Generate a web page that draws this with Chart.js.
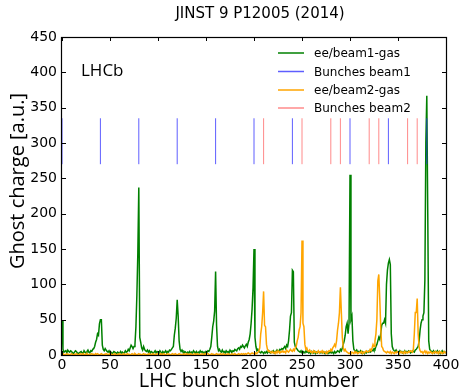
<!DOCTYPE html>
<html><head><meta charset="utf-8">
<script src="https://cdn.jsdelivr.net/npm/chart.js@4/dist/chart.umd.min.js"></script>
<style>html,body{margin:0;padding:0;background:#fff;}</style>
</head><body>
<canvas id="c" width="463" height="392"></canvas>
<script>
// ---- data ----
const slots = Array.from({length: 401}, (_, i) => i); // LHC bunch slot numbers 0..400

const beam1GasCharge = [
  48, 8, 4, 5, 6, 3, 7, 5, 4, 6,
  5, 3, 2, 4, 6, 5, 3, 2, 3, 4,
  5, 3, 2, 6, 4, 3, 5, 7, 4, 3,
  6, 5, 8, 9, 12, 18, 22, 30, 28, 44,
  50, 50, 14, 8, 6, 9, 7, 5, 4, 6,
  3, 4, 2, 3, 5, 4, 3, 2, 4, 3,
  2, 5, 3, 4, 2, 3, 6, 4, 5, 8,
  6, 10, 14, 12, 9, 12, 15, 40, 85, 145,
  237, 25, 18, 10, 7, 12, 8, 6, 5, 7,
  4, 6, 3, 5, 4, 2, 4, 6, 3, 5,
  4, 3, 6, 4, 2, 5, 3, 4, 6, 3,
  5, 4, 7, 6, 8, 10, 12, 28, 38, 52,
  78, 55, 20, 8, 5, 7, 4, 3, 5, 4,
  2, 4, 3, 5, 2, 4, 3, 6, 4, 3,
  5, 2, 4, 3, 6, 4, 5, 3, 4, 2,
  5, 4, 6, 5, 8, 12, 25, 40, 48, 62,
  118, 42, 12, 6, 8, 5, 4, 7, 4, 5,
  3, 6, 4, 5, 3, 7, 5, 4, 6, 5,
  8, 7, 6, 9, 10, 8, 12, 11, 14, 12,
  10, 13, 15, 12, 18, 22, 30, 45, 65, 95,
  150, 25, 12, 6, 8, 5, 4, 3, 5, 4,
  2, 4, 3, 5, 3, 6, 4, 3, 5, 4,
  6, 3, 5, 4, 7, 5, 6, 8, 7, 9,
  8, 10, 12, 9, 14, 12, 20, 35, 55, 60,
  120, 118, 18, 12, 10, 8, 6, 5, 4, 6,
  3, 5, 4, 3, 6, 4, 5, 3, 4, 2,
  5, 4, 3, 5, 2, 4, 3, 5, 4, 3,
  4, 3, 5, 4, 2, 4, 3, 2, 4, 3,
  5, 3, 4, 2, 5, 3, 4, 6, 5, 4,
  8, 6, 10, 15, 20, 28, 40, 45, 30, 45,
  255, 50, 55, 20, 8, 6, 5, 7, 4, 5,
  4, 6, 3, 5, 4, 2, 4, 3, 5, 4,
  6, 4, 5, 7, 6, 9, 8, 12, 15, 20,
  25, 22, 30, 42, 45, 45, 50, 45, 100, 120,
  130, 135, 128, 30, 12, 8, 6, 5, 7, 4,
  5, 3, 6, 4, 5, 3, 4, 6, 3, 5,
  4, 6, 5, 3, 4, 6, 5, 4, 7, 8,
  10, 12, 20, 35, 45, 50, 55, 60, 106, 300,
  367, 200, 20, 8, 6, 5, 4, 6, 3, 5,
  4, 6, 3, 5, 2, 4, 6, 3, 5, 4, 3
];

const beam2GasCharge = [
  1, 2, 1, 0, 1, 2, 1, 1, 0, 1,
  2, 1, 0, 1, 1, 2, 1, 0, 1, 2,
  1, 1, 2, 0, 1, 1, 2, 1, 0, 1,
  1, 2, 1, 1, 0, 2, 1, 2, 1, 0,
  1, 2, 1, 0, 1, 1, 2, 1, 1, 0,
  2, 1, 1, 0, 1, 2, 1, 0, 1, 1,
  2, 1, 0, 1, 2, 1, 1, 0, 2, 1,
  1, 0, 1, 2, 1, 1, 2, 1, 0, 1,
  2, 1, 1, 0, 1, 2, 1, 1, 0, 1,
  1, 2, 0, 1, 1, 2, 1, 0, 1, 2,
  1, 1, 0, 2, 1, 1, 2, 1, 0, 1,
  2, 1, 1, 0, 1, 2, 1, 1, 2, 1,
  0, 1, 2, 1, 1, 0, 1, 2, 1, 1,
  2, 0, 1, 1, 2, 1, 0, 1, 2, 1,
  1, 2, 1, 0, 1, 1, 2, 1, 0, 2,
  1, 1, 2, 1, 0, 1, 2, 1, 1, 0,
  1, 2, 1, 1, 0, 2, 1, 1, 2, 1,
  0, 1, 1, 2, 1, 0, 1, 2, 1, 1,
  2, 1, 0, 1, 2, 1, 1, 2, 1, 2,
  1, 2, 1, 2, 3, 2, 1, 2, 3, 2,
  2, 1, 3, 2, 4, 5, 10, 30, 40, 60,
  90, 42, 40, 15, 8, 5, 6, 4, 3, 5,
  3, 4, 2, 5, 3, 6, 4, 3, 5, 4,
  6, 4, 5, 3, 7, 5, 4, 6, 8, 6,
  5, 8, 6, 10, 12, 20, 25, 35, 40, 60,
  162, 45, 40, 15, 8, 10, 6, 5, 7, 4,
  5, 3, 6, 4, 5, 3, 4, 6, 3, 5,
  4, 6, 3, 5, 4, 2, 5, 4, 6, 5,
  8, 6, 10, 12, 15, 12, 20, 35, 45, 60,
  96, 60, 25, 10, 6, 8, 5, 4, 3, 2,
  3, 2, 4, 3, 2, 5, 3, 4, 2, 3,
  4, 3, 5, 2, 4, 3, 5, 6, 4, 5,
  5, 8, 6, 10, 15, 12, 20, 30, 50, 105,
  114, 80, 40, 12, 10, 6, 5, 4, 3, 5,
  4, 3, 5, 2, 4, 3, 2, 4, 3, 5,
  4, 2, 3, 5, 3, 4, 2, 5, 3, 4,
  3, 5, 4, 6, 5, 4, 8, 30, 60, 60,
  80, 30, 11, 6, 4, 5, 3, 4, 6, 3,
  5, 2, 4, 3, 5, 3, 2, 4, 3, 5,
  3, 4, 2, 5, 3, 4, 2, 3, 5, 3, 4
];

const beam1BunchSlots = [0, 40, 80, 120, 160, 200, 240, 300, 340, 380];
const beam2BunchSlots = [210, 250, 280, 290, 320, 330, 360, 370];
const bunchMarkLow = 270, bunchMarkHigh = 335; // vertical extent of bunch markers (a.u.)

const legendLabels = ['ee/beam1-gas', 'Bunches beam1', 'ee/beam2-gas', 'Bunches beam2'];
const xTicks = [0, 50, 100, 150, 200, 250, 300, 350, 400];
const yTicks = [0, 50, 100, 150, 200, 250, 300, 350, 400, 450];
const titleText = 'JINST 9 P12005 (2014)';
const xTitle = 'LHC bunch slot number';
const yTitle = 'Ghost charge [a.u.]';
const expText = 'LHCb';

// ---- build ----
const toXY = arr => slots.map(s => ({x: s, y: arr[s]}));
const markers = list => {
  const out = [];
  list.forEach(s => { out.push({x: s, y: bunchMarkLow}, {x: s, y: bunchMarkHigh}, {x: s, y: null}); });
  return out;
};

const colors = ['#008000', 'rgba(40,40,255,0.75)', '#ffa500', 'rgba(255,60,60,0.6)'];

const datasets = [
  {label: legendLabels[0], data: toXY(beam1GasCharge), borderColor: colors[0], borderWidth: 1.5, order: 3},
  {label: legendLabels[1], data: markers(beam1BunchSlots), borderColor: colors[1], borderWidth: 1, order: 2, spanGaps: false, clip: 2},
  {label: legendLabels[2], data: toXY(beam2GasCharge), borderColor: colors[2], borderWidth: 1.5, order: 1},
  {label: legendLabels[3], data: markers(beam2BunchSlots), borderColor: colors[3], borderWidth: 1, order: 0, spanGaps: false}
];
datasets.forEach(d => { d.pointRadius = 0; d.tension = 0; d.fill = false; d.borderJoinStyle = 'miter'; });

const tickFont = {family: 'DejaVu Sans', size: 14};

const decor = {
  id: 'decor',
  afterDatasetsDraw(chart) {
    const {ctx, chartArea: a, scales: {x, y}} = chart;
    ctx.save();
    ctx.strokeStyle = '#000';
    ctx.lineWidth = 1;
    ctx.beginPath();
    xTicks.forEach(v => {
      const px = Math.round(x.getPixelForValue(v)) + 0.5;
      ctx.moveTo(px, a.bottom); ctx.lineTo(px, a.bottom - 4);
      ctx.moveTo(px, a.top); ctx.lineTo(px, a.top + 4);
    });
    yTicks.forEach(v => {
      const py = Math.round(y.getPixelForValue(v)) + 0.5;
      ctx.moveTo(a.left, py); ctx.lineTo(a.left + 4, py);
      ctx.moveTo(a.right, py); ctx.lineTo(a.right - 4, py);
    });
    ctx.stroke();
    ctx.lineWidth = 1.2;
    ctx.strokeRect(Math.round(a.left) - 0.5, Math.round(a.top) + 0.5, Math.round(a.right - a.left) + 1, Math.round(a.bottom - a.top));
    ctx.restore();
  },
  afterDraw(chart) {
    const {ctx} = chart;
    ctx.save();
    ctx.fillStyle = '#000';
    // title
    ctx.font = '15px "DejaVu Sans"';
    ctx.textAlign = 'center'; ctx.textBaseline = 'middle';
    ctx.fillText(titleText, 260, 14);
    // x title
    ctx.font = '20px "Open Sans"';
    ctx.fillText(xTitle, 249, 381);
    // y title
    ctx.save();
    ctx.translate(18, 181);
    ctx.rotate(-Math.PI / 2);
    ctx.fillText(yTitle, 0, 0);
    ctx.restore();
    // LHCb
    ctx.textAlign = 'left';
    ctx.font = '17px "Open Sans"';
    ctx.fillText(expText, 81, 71);
    // legend
    ctx.font = '12px "DejaVu Sans"';
    const rows = [53, 71.5, 90, 108];
    legendLabels.forEach((lab, i) => {
      ctx.strokeStyle = colors[i];
      ctx.lineWidth = 1.5;
      ctx.beginPath();
      ctx.moveTo(278, rows[i]); ctx.lineTo(304, rows[i]);
      ctx.stroke();
      ctx.fillStyle = '#000';
      ctx.fillText(lab, 314, rows[i] + 1);
    });
    ctx.restore();
  }
};

new Chart(document.getElementById('c'), {
  type: 'line',
  data: {datasets},
  options: {
    responsive: false,
    animation: false,
    devicePixelRatio: 1,
    layout: {padding: {top: 37, right: 17, left: 0, bottom: 0}},
    plugins: {legend: {display: false}, title: {display: false}, tooltip: {enabled: false}},
    scales: {
      x: {
        type: 'linear', min: 0, max: 400,
        afterFit: s => { s.height = 37; },
        afterBuildTicks: s => { s.ticks = xTicks.map(v => ({value: v})); },
        ticks: {font: tickFont, color: '#000', padding: 2, maxRotation: 0, autoSkip: false},
        grid: {display: false, drawTicks: false},
        border: {display: false}
      },
      y: {
        type: 'linear', min: 0, max: 450,
        afterFit: s => { s.width = 62; },
        afterBuildTicks: s => { s.ticks = yTicks.map(v => ({value: v})); },
        ticks: {font: tickFont, color: '#000', padding: 5, autoSkip: false},
        grid: {display: false, drawTicks: false},
        border: {display: false}
      }
    }
  },
  plugins: [decor]
});
</script>
</body></html>
